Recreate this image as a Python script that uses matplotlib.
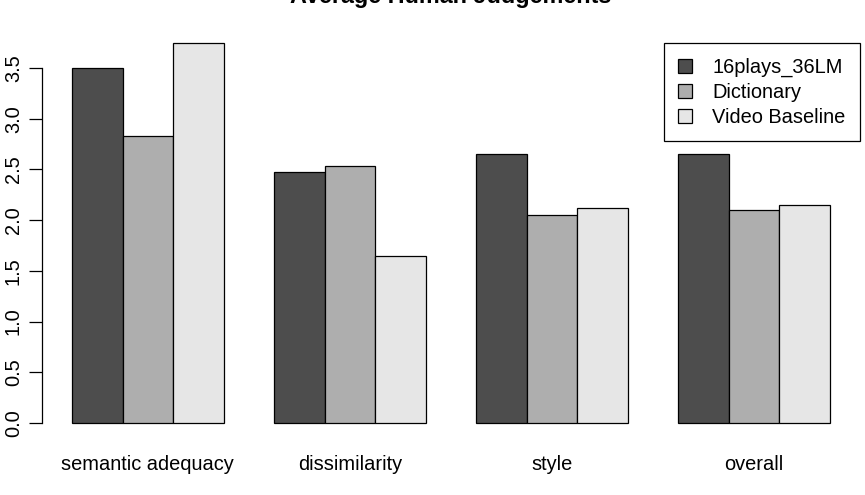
import matplotlib.pyplot as plt
from matplotlib.patches import Patch
import numpy as np

plt.rcParams['font.family'] = ['Liberation Sans', 'DejaVu Sans']

categories = ['semantic adequacy', 'dissimilarity', 'style', 'overall']
series_names = ['16plays_36LM', 'Dictionary', 'Video Baseline']
plays_16 = [3.50, 2.475, 2.65, 2.65]
dictionary = [2.83, 2.535, 2.05, 2.10]
video_baseline = [3.75, 1.645, 2.12, 2.15]
colors = ['#4D4D4D', '#AEAEAE', '#E6E6E6']
yticks = [0.0, 0.5, 1.0, 1.5, 2.0, 2.5, 3.0, 3.5]

fig = plt.figure(figsize=(8.65, 4.95), dpi=100)
ax = fig.add_axes([0.0482, 0.1147, 0.9460, 0.8297])

# R style barplot, beside=TRUE, space=c(0,1)
series = [plays_16, dictionary, video_baseline]
group_start = np.arange(len(categories)) * 4 + 1
for i, vals in enumerate(series):
    ax.bar(group_start + i, vals, width=1, align='edge', color=colors[i],
           edgecolor='black', linewidth=0.9)

ax.set_xlim(0.4, 16.6)
ax.set_ylim(-0.15, 3.9)

for s in ['top', 'right', 'bottom']:
    ax.spines[s].set_visible(False)
ax.spines['left'].set_bounds(0, 3.5)
ax.spines['left'].set_linewidth(0.9)
ax.set_yticks(yticks)
ax.set_yticklabels(['%.1f' % t for t in yticks], rotation=90, va='center',
                   fontsize=14.4)
ax.tick_params(axis='y', length=9.5, width=0.9, pad=4)

ax.set_xticks(group_start + 1.5)
ax.set_xticklabels(categories, fontsize=14.4)
ax.tick_params(axis='x', length=0, pad=12)

fig.text(0.521, 1 - 3 / 495, 'Average Human Judgements', ha='center',
         va='baseline', fontsize=16.8, fontweight='bold')

handles = [Patch(facecolor=c, edgecolor='black', linewidth=0.9) for c in colors]
ax.legend(handles, series_names, loc='upper right', bbox_to_anchor=(1.0, 0.962),
          fontsize=14.4, fancybox=False, edgecolor='black', framealpha=1,
          borderaxespad=0, handlelength=0.7, handleheight=0.7,
          labelspacing=0.3, handletextpad=1.0, borderpad=0.72)
ax.get_legend().get_frame().set_linewidth(0.9)

fig.savefig('out.png', dpi=100)
